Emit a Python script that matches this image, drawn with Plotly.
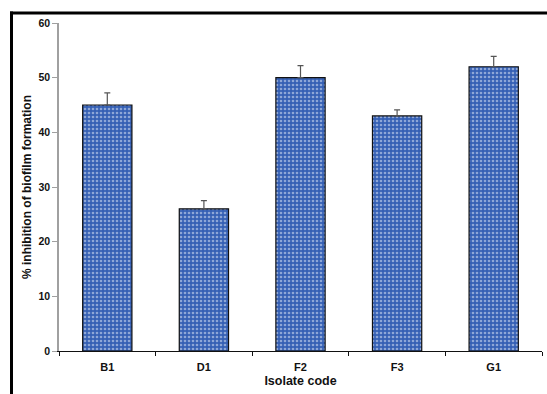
import plotly.graph_objects as go

# Biofilm inhibition by isolate
isolates = ["B1", "D1", "F2", "F3", "G1"]
inhibition = [45, 26, 50, 43, 52]
err_plus = [2.2, 1.5, 2.2, 1.1, 1.9]
y_ticks = [0, 10, 20, 30, 40, 50, 60]

W, H = 547, 394
L, R, T, B = 59, 5, 23, 42.5
pw, ph = W - L - R, H - T - B

def px_x(p):
    return (p - L) / pw

def px_y(p):
    return (H - B - p) / ph

fig = go.Figure()
fig.add_trace(go.Bar(
    x=isolates,
    y=inhibition,
    marker=dict(
        color="#3560b4",
        line=dict(color="#111111", width=1.2),
        pattern=dict(shape=".", fgcolor="#e8eefa", bgcolor="#3560b4",
                     size=4, solidity=0.35),
    ),
    error_y=dict(type="data", array=err_plus, arrayminus=[0] * len(err_plus),
                 symmetric=False, color="#555555", thickness=1.2, width=3),
    width=0.51,
))

font_bold = dict(family="Arial, Liberation Sans, sans-serif", color="#111111")

fig.update_layout(
    width=W, height=H,
    margin=dict(l=L, r=R, t=T, b=B, pad=0),
    paper_bgcolor="white",
    plot_bgcolor="white",
    showlegend=False,
    font=font_bold,
    xaxis=dict(
        showline=True, linecolor="#111111", linewidth=1,
        ticks="outside", ticklen=4, tickcolor="#111111",
        tickson="boundaries",
        title=dict(text="<b>Isolate code</b>", font=dict(size=12.5), standoff=4),
        showgrid=False, zeroline=False,
    ),
    yaxis=dict(
        range=[0, 60], tickvals=y_ticks,
        ticktext=[f"<b>{v}</b>" for v in y_ticks],
        showline=True, linecolor="#a0a0a0", linewidth=1.5,
        ticks="outside", ticklen=5, tickcolor="#a0a0a0",
        tickfont=dict(size=10.5),
        title=dict(text="<b>% inhibition of biofilm formation</b>", font=dict(size=12), standoff=4),
        showgrid=False, zeroline=False,
    ),
    shapes=[
        dict(type="line", xref="paper", yref="paper",
             x0=px_x(10), x1=px_x(W + 2), y0=px_y(13), y1=px_y(13),
             line=dict(color="black", width=3)),
        dict(type="line", xref="paper", yref="paper",
             x0=px_x(11.5), x1=px_x(11.5), y0=px_y(11.5), y1=px_y(H + 2),
             line=dict(color="black", width=3)),
    ],
)
fig.update_xaxes(ticktext=[f"<b>{c}</b>" for c in isolates], tickvals=isolates,
                 tickfont=dict(family="Arial, Liberation Sans, sans-serif", size=11),
                 ticklabelstandoff=6)

fig.write_html("out.html")
